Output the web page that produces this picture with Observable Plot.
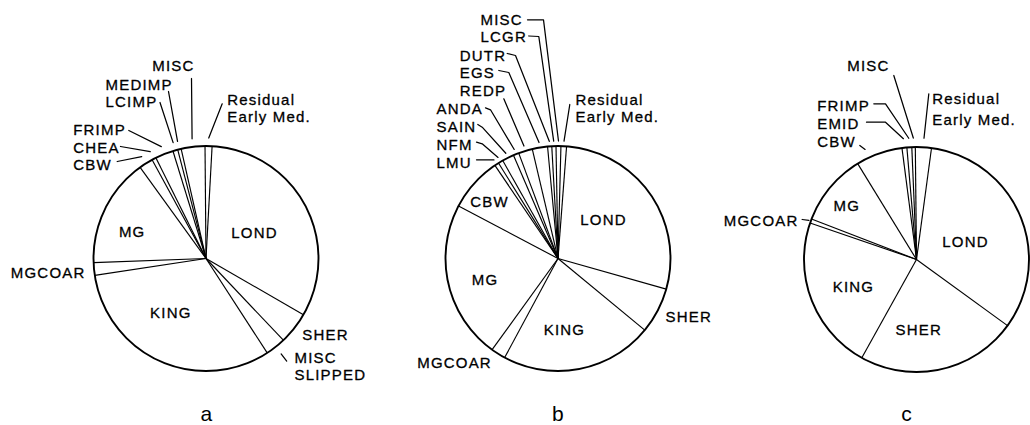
<!DOCTYPE html>
<html>
<head>
<meta charset="utf-8">
<script src="https://cdn.jsdelivr.net/npm/d3@7"></script>
<script src="https://cdn.jsdelivr.net/npm/@observablehq/plot@0.6"></script>
<style>
  html, body { margin: 0; padding: 0; background: #fff; }
</style>
</head>
<body>
<div id="chart"></div>
<script>
// ---- DATA (percent shares, read clockwise from the top of each pie) ----
const categoriesA = ["Residual Early Med.", "LOND", "SHER", "MISC SLIPPED", "KING", "MGCOAR", "MG", "CBW", "CHEA", "FRIMP", "LCIMP", "MEDIMP", "MISC"];
const valuesA     = [1.0, 32.4, 4.6, 2.9, 31.7, 1.8, 15.6, 2.0, 0.6, 2.6, 0.7, 0.5, 3.4];

const categoriesB = ["Residual Early Med.", "LOND", "SHER", "KING", "MGCOAR", "MG", "CBW", "LMU", "NFM", "SAIN", "ANDA", "REDP", "EGS", "DUTR", "LCGR", "MISC"];
const valuesB     = [0.8, 28.2, 6.6, 21.9, 2.1, 22.8, 7.8, 0.6, 0.7, 1.7, 0.8, 2.0, 2.2, 0.6, 0.6, 0.7];

const categoriesC = ["Residual Early Med.", "LOND", "SHER", "KING", "MGCOAR", "MG", "CBW", "EMID", "FRIMP", "MISC"];
const valuesC     = [2.3, 32.9, 23.1, 22.2, 0.6, 10.4, 6.7, 0.7, 0.7, 0.5];

const panelNames = ["a", "b", "c"];

// ---- LAYOUT (positions / styles, kept apart from the data) ----
const W = 1030, H = 425, R = 112.5;
const pieLayout = [
  {id: "a", cx: 205.5, cy: 258, start: -0.5, gap: 8, lx: 206.5, ly: 420},
  {id: "b", cx: 557.5, cy: 258, start: 1.5,  gap: 5, lx: 558,   ly: 420},
  {id: "c", cx: 916,   cy: 259, start: -0.6, gap: 9, lx: 906.5, ly: 420}
];
const pieData = {
  a: {cats: categoriesA, vals: valuesA},
  b: {cats: categoriesB, vals: valuesB},
  c: {cats: categoriesC, vals: valuesC}
};

// label placement; leader = label-side points, last point is computed from the slice angle
const labelsA = [
  {name: "LOND", x: 254, y: 237.7, anchor: "middle"},
  {name: "KING", x: 170.3, y: 317.7, anchor: "middle"},
  {name: "MG", x: 131.7, y: 236, anchor: "middle"},
  {name: "MGCOAR", x: 85, y: 277.7, anchor: "end"},
  {name: "SHER", x: 301.7, y: 339.3, anchor: "start"},
  {name: "MISC SLIPPED", text: "MISC\nSLIPPED", x: 294, y: 379, anchor: "start", lh: 1.13, tick: [9, 18]},
  {name: "Residual Early Med.", text: "Residual\nEarly Med.", x: 226.7, y: 121.7, anchor: "start", lh: 1.16, leader: [[221.7, 103.3]]},
  {name: "MISC", x: 151.7, y: 70.3, anchor: "start", leader: [[191, 78]]},
  {name: "MEDIMP", x: 105, y: 89.3, anchor: "start", leader: [[168, 91]]},
  {name: "LCIMP", x: 105, y: 106, anchor: "start", leader: [[159.5, 102]]},
  {name: "FRIMP", x: 72.7, y: 134.3, anchor: "start", leader: [[128.3, 130]]},
  {name: "CHEA", x: 72.7, y: 152, anchor: "start", leader: [[120, 146]]},
  {name: "CBW", x: 72.7, y: 169.3, anchor: "start", leader: [[116.7, 161]]}
];
const labelsB = [
  {name: "LOND", x: 603, y: 224.3, anchor: "middle"},
  {name: "KING", x: 564, y: 334.3, anchor: "middle"},
  {name: "MG", x: 484.5, y: 284.3, anchor: "middle"},
  {name: "CBW", x: 489, y: 206, anchor: "middle"},
  {name: "SHER", x: 665, y: 321, anchor: "start"},
  {name: "MGCOAR", x: 416.7, y: 367, anchor: "start"},
  {name: "Residual Early Med.", text: "Residual\nEarly Med.", x: 575, y: 121, anchor: "start", lh: 1.11, leader: [[569.3, 104]]},
  {name: "MISC", x: 480, y: 24.3, anchor: "start", leader: [[527, 19.3], [543, 19.3]]},
  {name: "LCGR", x: 480, y: 41.7, anchor: "start", leader: [[528.3, 35.5], [538.3, 36]]},
  {name: "DUTR", x: 459.3, y: 60.3, anchor: "start", leader: [[506.7, 53], [515, 55]]},
  {name: "EGS", x: 459.3, y: 77.7, anchor: "start", leader: [[498.3, 70], [508.3, 72]]},
  {name: "REDP", x: 459.3, y: 95, anchor: "start", leader: [[503.3, 98.3]]},
  {name: "ANDA", x: 436, y: 113.7, anchor: "start", leader: [[485, 107.3], [490, 109.3]]},
  {name: "SAIN", x: 436, y: 131.7, anchor: "start", leader: [[477.3, 124], [481.7, 126.7]]},
  {name: "NFM", x: 436, y: 149.3, anchor: "start", leader: [[476, 141.7], [481.7, 143.3]]},
  {name: "LMU", x: 436, y: 167, anchor: "start", leader: [[476, 159.3]]}
];
const labelsC = [
  {name: "LOND", x: 965, y: 246, anchor: "middle"},
  {name: "SHER", x: 918.3, y: 334.3, anchor: "middle"},
  {name: "KING", x: 853, y: 291, anchor: "middle"},
  {name: "MG", x: 846.3, y: 210.3, anchor: "middle"},
  {name: "MGCOAR", x: 723.3, y: 225, anchor: "start", leader: [[801.7, 219]], gap: 2},
  {name: "Residual Early Med.", text: "Residual\nEarly Med.", x: 931.7, y: 124, anchor: "start", lh: 1.37, leader: [[928.3, 93.3]]},
  {name: "MISC", x: 846.7, y: 70.7, anchor: "start", leader: [[893.3, 75]]},
  {name: "FRIMP", x: 816.7, y: 110.3, anchor: "start", leader: [[873.3, 103.3], [885, 103.3]]},
  {name: "EMID", x: 816.7, y: 128.3, anchor: "start", leader: [[866, 121.7], [885, 121.7]]},
  {name: "CBW", x: 816.7, y: 146, anchor: "start", leader: [[859.3, 145]], at: 0.27}
];
const labelLayout = {a: labelsA, b: labelsB, c: labelsC};

// ---- GEOMETRY from the data ----
const toRad = d => d * Math.PI / 180;
const bounds = [];
const sliceAngles = {};
for (const p of pieLayout) {
  const {cats, vals} = pieData[p.id];
  const s = toRad(p.start);
  const arcs = d3.pie().sort(null).value(d => d.v).startAngle(s).endAngle(s + 2 * Math.PI)(
    cats.map((c, i) => ({c, v: vals[i]}))
  );
  sliceAngles[p.id] = {};
  for (const a of arcs) {
    sliceAngles[p.id][a.data.c] = [a.startAngle, a.endAngle];
    bounds.push({
      pie: p.id, cx: p.cx, cy: p.cy,
      x2: p.cx + R * Math.sin(a.startAngle),
      y2: p.cy - R * Math.cos(a.startAngle)
    });
  }
}

const leaderPts = [];
const textRows = [];
for (const p of pieLayout) {
  for (const L of labelLayout[p.id]) {
    textRows.push({...L, text: L.text ?? L.name});
    const [a0, a1] = sliceAngles[p.id][L.name];
    const ang = a0 + (L.at ?? 0.5) * (a1 - a0);
    const id = p.id + ":" + L.name;
    if (L.tick) {
      for (const rr of L.tick) {
        leaderPts.push({id, x: p.cx + (R + rr) * Math.sin(ang), y: p.cy - (R + rr) * Math.cos(ang)});
      }
    } else if (L.leader) {
      for (const [x, y] of L.leader) leaderPts.push({id, x, y});
      const g = R + (L.gap ?? p.gap);
      leaderPts.push({id, x: p.cx + g * Math.sin(ang), y: p.cy - g * Math.cos(ang)});
    }
  }
}

const font = "'Liberation Sans', Arial, Helvetica, sans-serif";
const textMarks = textRows.map(t => Plot.text([t], {
  x: "x", y: "y", text: "text",
  textAnchor: t.anchor ?? "start",
  lineAnchor: "bottom",
  lineHeight: t.lh ?? 1.1,
  fontSize: 15,
  fontFamily: font,
  fill: "black",
  stroke: "black",
  strokeWidth: 0.3
}));

const chart = Plot.plot({
  width: W,
  height: H,
  margin: 0,
  x: {domain: [0, W], range: [0, W], axis: null},
  y: {domain: [0, H], range: [0, H], axis: null},
  style: {background: "white", letterSpacing: "1.2px", fontFamily: font},
  marks: [
    Plot.dot(pieLayout, {x: "cx", y: "cy", r: R, fill: "white", stroke: "black", strokeWidth: 1.9}),
    Plot.link(bounds, {x1: "cx", y1: "cy", x2: "x2", y2: "y2", stroke: "black", strokeWidth: 1.15}),
    Plot.line(leaderPts, {x: "x", y: "y", z: "id", stroke: "black", strokeWidth: 1.25}),
    ...textMarks,
    Plot.text(pieLayout, {x: "lx", y: "ly", text: (d, i) => panelNames[i], fontSize: 21, lineAnchor: "bottom", fontFamily: font, fill: "black"})
  ]
});
document.getElementById("chart").appendChild(chart);
</script>
</body>
</html>
